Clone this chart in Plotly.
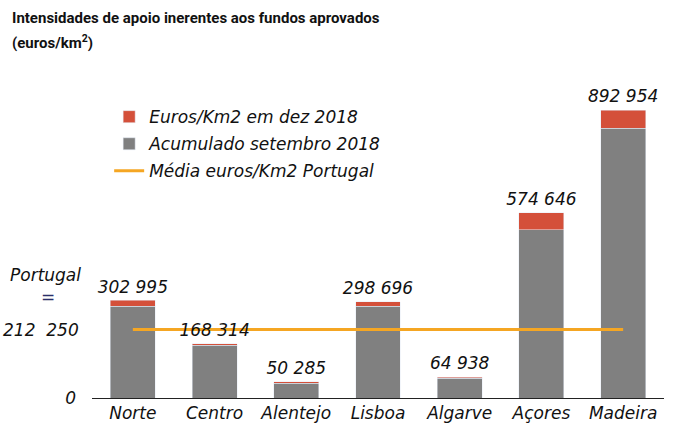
import plotly.graph_objects as go

regions = ["Norte", "Centro", "Alentejo", "Lisboa", "Algarve", "Açores", "Madeira"]
total_dez_2018 = [302995, 168314, 50285, 298696, 64938, 574646, 892954]
acumulado_set_2018 = [285000, 163000, 46500, 284000, 61500, 521000, 837000]
media_portugal = 212250

increment_dez = [t - a for t, a in zip(total_dez_2018, acumulado_set_2018)]
labels = [f"{v:,}".replace(",", " ") for v in total_dez_2018]

FONT = "DejaVu Sans"
fig = go.Figure()
fig.add_trace(go.Bar(x=regions, y=acumulado_set_2018, name="Acumulado setembro 2018",
                     marker_color="#808080", legendrank=2, legendgroup="g2"))
fig.add_trace(go.Bar(x=regions, y=increment_dez, name="Euros/Km2 em dez 2018",
                     marker_color="#D4503A", legendrank=1, legendgroup="g1"))
fig.add_trace(go.Scatter(x=regions, y=[media_portugal] * len(regions), mode="lines",
                         name="Média euros/Km2 Portugal", legendgroup="g3",
                         line=dict(color="#F5A623", width=3), legendrank=3))
fig.add_trace(go.Scatter(x=regions, y=total_dez_2018, mode="markers+text", text=labels,
                         textposition="top center", showlegend=False, cliponaxis=False,
                         marker=dict(size=4, opacity=0), hoverinfo="skip",
                         textfont=dict(size=17, color="#111")))

fig.update_layout(
    width=674, height=439,
    barmode="stack", bargap=0.45,
    margin=dict(l=92, r=10, t=100, b=41),
    plot_bgcolor="white", paper_bgcolor="white",
    font=dict(family=FONT, size=17, color="#111", style="italic"),
    legend=dict(x=0.03, y=1.003, xanchor="left", yanchor="top",
                traceorder="grouped", tracegroupgap=2,
                bgcolor="rgba(0,0,0,0)", font=dict(size=17)),
    xaxis=dict(showline=True, linecolor="#222", linewidth=1, ticks="",
               tickfont=dict(size=17), automargin=False),
    yaxis=dict(range=[0, 924000], showgrid=False, zeroline=False,
               tickvals=[0], ticktext=["0"], ticks="", ticklabelstandoff=15,
               tickfont=dict(size=17), automargin=False),
    annotations=[
        dict(text="<b>Intensidades de apoio inerentes aos fundos aprovados</b>",
             x=(10 - 92) / 572, xref="paper", xanchor="left",
             y=(398 - 18) / 298, yref="paper", yanchor="middle", showarrow=False,
             font=dict(family="Roboto", size=15, style="normal", color="#111")),
        dict(text="<b>(euros/km<sup>2</sup>)</b>",
             x=(10 - 92) / 572, xref="paper", xanchor="left",
             y=(398 - 42) / 298, yref="paper", yanchor="middle", showarrow=False,
             font=dict(family="Roboto", size=15, style="normal", color="#111")),
        dict(text="212  250", x=-0.019, xref="paper", xanchor="right",
             y=media_portugal, yref="y", yanchor="middle", showarrow=False,
             font=dict(size=17)),
        dict(text="=", x=(48 - 92) / 572, xref="paper", xanchor="center",
             y=media_portugal, yref="y", yanchor="middle", yshift=33, showarrow=False,
             font=dict(size=17, color="#2B2F6B")),
        dict(text="Portugal", x=-0.016, xref="paper", xanchor="right",
             y=media_portugal, yref="y", yanchor="middle", yshift=55, showarrow=False,
             font=dict(size=17)),
    ],
)

fig.write_html("out.html", config={"displayModeBar": False},
               post_script="document.body.style.margin='0';")
